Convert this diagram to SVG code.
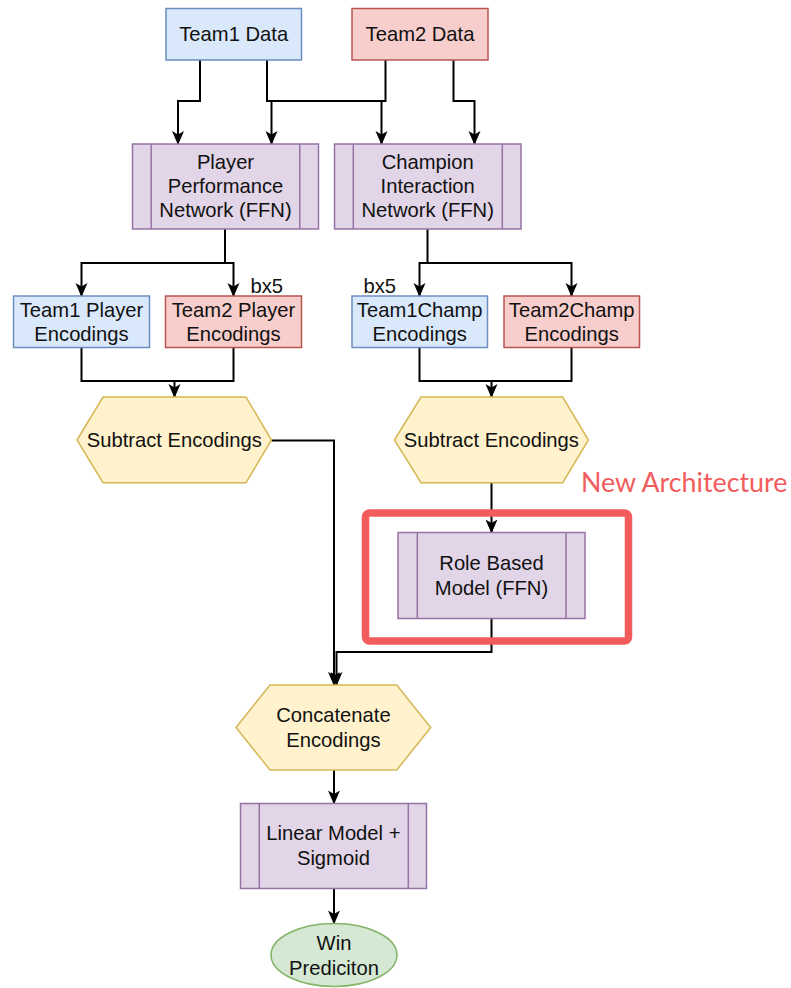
<svg xmlns="http://www.w3.org/2000/svg" width="791" height="988" viewBox="0 0 791 988">
  <defs>
    <marker id="arrow" markerUnits="userSpaceOnUse" markerWidth="14" markerHeight="14" viewBox="0 0 14 14" refX="13" refY="7" orient="auto">
      <path d="M0,1 L14,7 L0,13 L3.5,7 Z" fill="#000"/>
    </marker>
  </defs>
  <style>
    text { font-family: "Liberation Sans", Arial, sans-serif; font-size: 20.2px; fill: #111; text-anchor: middle; }
    .blue { fill: #dae8fc; stroke: #6c8ebf; stroke-width: 1.5; }
    .red { fill: #f8cecc; stroke: #b85450; stroke-width: 1.5; }
    .purple { fill: #e1d5e7; stroke: #9673a6; stroke-width: 1.5; }
    .yellow { fill: #fff2cc; stroke: #d6b656; stroke-width: 1.5; }
    .green { fill: #d5e8d4; stroke: #82b366; stroke-width: 1.5; }
    .sub { fill: none; stroke: #9673a6; stroke-width: 1.5; }
    .edge { fill: none; stroke: #000; stroke-width: 2; marker-end: url(#arrow); }
    .line { fill: none; stroke: #000; stroke-width: 2; }
    .note { font-family: Lato, "Liberation Sans", sans-serif; font-size: 26.8px; fill: #f25c5c; text-anchor: start; }
    .tag { text-anchor: start; }
  </style>

  <!-- connectors -->
  <g id="connectors">
    <path class="edge" d="M200,60 V101 H178 V144"/>
    <path class="edge" d="M267,60 V101 H381.5 V144"/>
    <path class="edge" d="M385.5,60 V101 H271.5 V144"/>
    <path class="edge" d="M453.5,60 V101 H474.5 V144"/>

    <path class="edge" d="M225,229 V263 H81.5 V296"/>
    <path class="edge" d="M225,263 H233.5 V296"/>
    <path class="edge" d="M427.5,229 V263 H419.5 V296"/>
    <path class="edge" d="M427.5,263 H571.5 V296"/>

    <path class="edge" d="M81.5,347.5 V381 H174.5 V397"/>
    <path class="line" d="M233.5,347.5 V381 H174.5"/>
    <path class="edge" d="M419.5,347.5 V381 H491.5 V397"/>
    <path class="line" d="M571.5,347.5 V381 H491.5"/>

    <path class="edge" d="M271.5,440.5 H334 V685"/>
    <path class="edge" d="M491.5,482.5 V532.5"/>
    <path class="edge" d="M491.5,618.5 V652 H336.5 V685"/>

    <path class="edge" d="M334,770 V803.5"/>
    <path class="edge" d="M334,888.5 V923.5"/>
  </g>

  <!-- highlight frame -->
  <g id="new-architecture">
    <rect x="365.5" y="513" width="263" height="128" rx="4" fill="none" stroke="#f25c5c" stroke-width="7.5"/>
    <text class="note" x="581" y="491.5">New Architecture</text>
  </g>

  <g id="team1-data">
    <rect class="blue" x="166" y="8.5" width="135.5" height="51.5"/>
    <text x="233.7" y="41">Team1 Data</text>
  </g>
  <g id="team2-data">
    <rect class="red" x="352" y="8.5" width="136" height="51.5"/>
    <text x="420" y="41">Team2 Data</text>
  </g>

  <g id="player-network">
    <rect class="purple" x="132.5" y="144" width="186" height="85"/>
    <path class="sub" d="M151.2,144 V229 M299.8,144 V229"/>
    <text x="225.5" y="168.5">Player</text>
    <text x="225.5" y="192.5">Performance</text>
    <text x="225.5" y="216.5">Network (FFN)</text>
  </g>
  <g id="champion-network">
    <rect class="purple" x="334.5" y="144" width="186.5" height="85"/>
    <path class="sub" d="M353.3,144 V229 M502.3,144 V229"/>
    <text x="427.7" y="168.5">Champion</text>
    <text x="427.7" y="192.5">Interaction</text>
    <text x="427.7" y="216.5">Network (FFN)</text>
  </g>

  <g id="team1-player-enc">
    <rect class="blue" x="13.5" y="296" width="136" height="51.5"/>
    <text x="81.5" y="316.5">Team1 Player</text>
    <text x="81.5" y="340.5">Encodings</text>
  </g>
  <g id="team2-player-enc">
    <rect class="red" x="165.5" y="296" width="136" height="51.5"/>
    <text x="233.5" y="316.5">Team2 Player</text>
    <text x="233.5" y="340.5">Encodings</text>
    <text class="tag" x="250.5" y="293">bx5</text>
  </g>
  <g id="team1-champ-enc">
    <rect class="blue" x="352" y="296" width="135.5" height="51.5"/>
    <text x="419.7" y="316.5">Team1Champ</text>
    <text x="419.7" y="340.5">Encodings</text>
    <text class="tag" x="363.5" y="293">bx5</text>
  </g>
  <g id="team2-champ-enc">
    <rect class="red" x="504" y="296" width="135.5" height="51.5"/>
    <text x="571.7" y="316.5">Team2Champ</text>
    <text x="571.7" y="340.5">Encodings</text>
  </g>

  <g id="subtract-player">
    <polygon class="yellow" points="77,440 103,397 246,397 271.5,440 246,482.7 103,482.7"/>
    <text x="174.3" y="446.5">Subtract Encodings</text>
  </g>
  <g id="subtract-champ">
    <polygon class="yellow" points="394.4,440 421,397 562.7,397 588.4,440 562.7,482.7 421,482.7"/>
    <text x="491.4" y="446.5">Subtract Encodings</text>
  </g>

  <g id="role-model">
    <rect class="purple" x="398" y="532.5" width="187" height="86"/>
    <path class="sub" d="M417.3,532.5 V618.5 M566,532.5 V618.5"/>
    <text x="491.5" y="569.5">Role Based</text>
    <text x="491.5" y="594.5">Model (FFN)</text>
  </g>

  <g id="concatenate">
    <polygon class="yellow" points="236,727.5 270,685 396.7,685 430.7,727.5 396.7,770 270,770"/>
    <text x="333.4" y="721.7">Concatenate</text>
    <text x="333.4" y="746.7">Encodings</text>
  </g>

  <g id="linear-model">
    <rect class="purple" x="240.5" y="803.5" width="186" height="85"/>
    <path class="sub" d="M259.3,803.5 V888.5 M408.3,803.5 V888.5"/>
    <text x="333.4" y="840">Linear Model +</text>
    <text x="333.4" y="865">Sigmoid</text>
  </g>

  <g id="win-prediction">
    <ellipse class="green" cx="334" cy="955" rx="63" ry="31.5"/>
    <text x="334" y="950">Win</text>
    <text x="334" y="975">Prediciton</text>
  </g>
</svg>
